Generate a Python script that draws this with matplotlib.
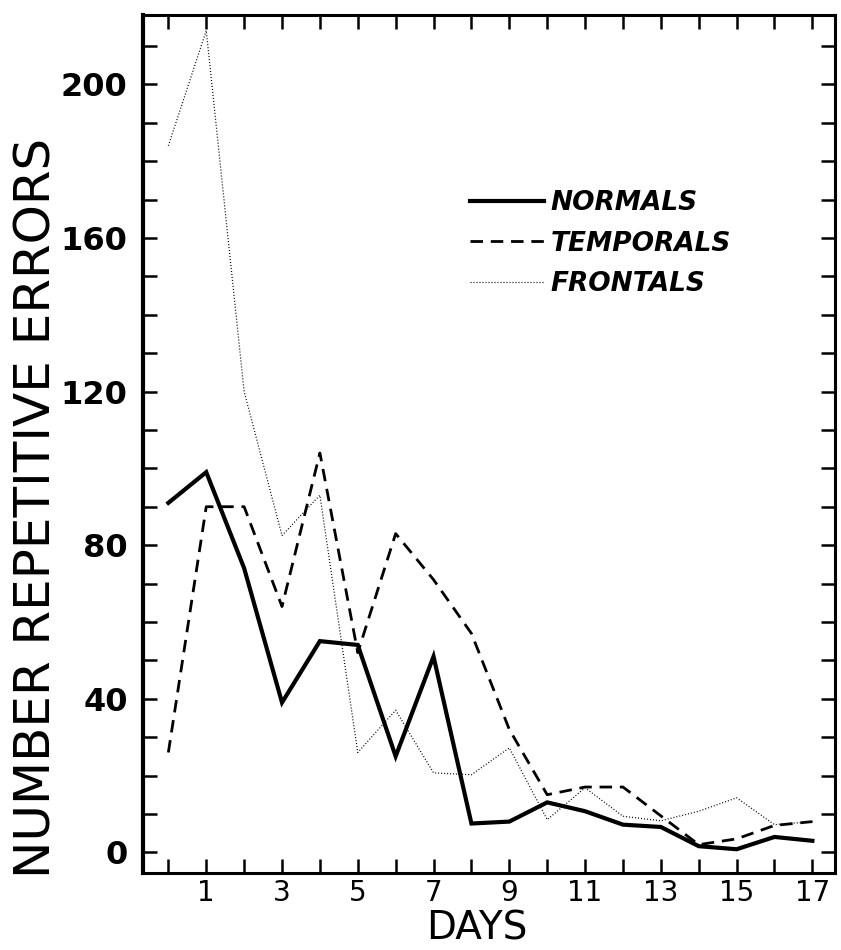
import matplotlib
matplotlib.use("Agg")
import matplotlib.pyplot as plt

# values (errors per day)
days = list(range(18))
normals = [91, 99, 74, 39, 55, 54, 25, 51, 7.5, 8, 13, 10.7, 7.2, 6.6, 1.6, 0.8, 4, 3]
temporals = [26, 90, 90, 64, 104, 52, 83, 71, 57, 32, 15, 17, 17, 9.5, 2, 3.5, 7, 8]
frontals = [184, 214, 120, 82.5, 93, 26, 37, 20.7, 20.2, 27.2, 8.5, 16.8, 9.4, 8.2, 10.7, 14.2, 7.2, 8]

x_labels = [str(d) if d % 2 == 1 else "" for d in days]
y_ticks = list(range(0, 220, 10))
y_labels = [str(v) if v % 40 == 0 else "" for v in y_ticks]

fig = plt.figure(figsize=(8.41, 9.5), dpi=100)
ax = fig.add_axes([0.170, 0.081, 0.823, 0.903])

ax.plot(days, normals, color="black", lw=3.0, solid_joinstyle="miter", label="NORMALS")
ax.plot(days, temporals, color="black", lw=2.0, dashes=(4.5, 2.8), label="TEMPORALS")
ax.plot(days, frontals, color="black", lw=0.9, dashes=(0.8, 1.6), label="FRONTALS")

ax.set_xlim(-0.67, 17.6)
ax.set_ylim(-5.4, 218)

ax.set_xticks(days)
ax.set_xticklabels(x_labels)
ax.set_yticks(y_ticks)
ax.set_yticklabels(y_labels)

for s in ax.spines.values():
    s.set_linewidth(2.2)
ax.spines["left"].set_linewidth(3)

ax.tick_params(axis="both", direction="in", length=10, width=1.8,
               top=True, right=True)
ax.tick_params(axis="y", pad=11)
ax.tick_params(axis="x", pad=4)
for t in ax.get_yticklabels():
    t.set_fontsize(23)
    t.set_fontweight("bold")
for t in ax.get_xticklabels():
    t.set_fontsize(20)

fig.text(36.5 / 841, 1 - 508 / 950, "NUMBER REPETITIVE ERRORS", rotation=90,
         ha="center", va="center", fontsize=36)
fig.text(477 / 841, 1 - 939 / 950, "DAYS", ha="center", va="baseline", fontsize=28)

leg = ax.legend(loc="upper left", bbox_to_anchor=(470 / 841, 1 - 190 / 950),
                bbox_transform=fig.transFigure, frameon=False,
                borderpad=0, borderaxespad=0, handlelength=2.8,
                handletextpad=0.25, labelspacing=0.55,
                prop={"size": 19, "weight": "bold", "style": "italic"})

fig.savefig("out.png", dpi=100)
